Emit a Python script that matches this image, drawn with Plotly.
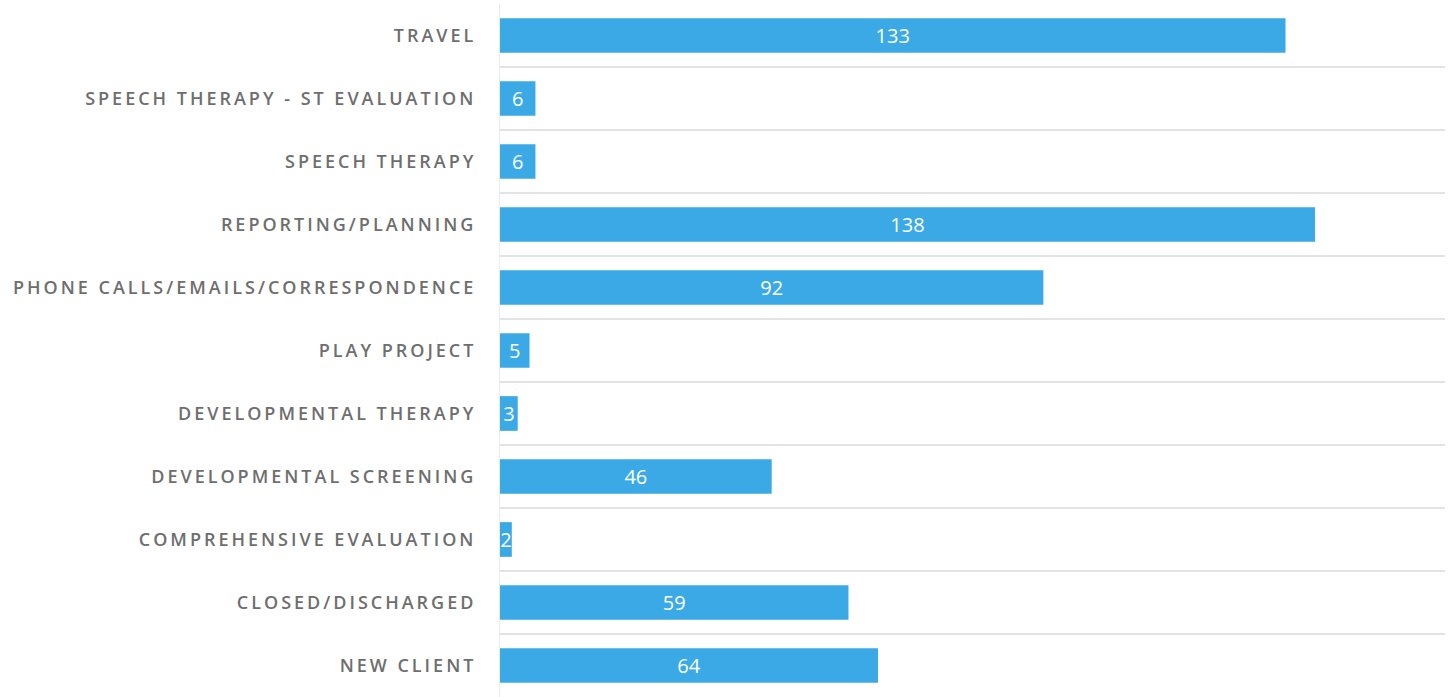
import plotly.graph_objects as go

# Hours logged per activity type, listed top to bottom
categories = [
    "TRAVEL",
    "SPEECH THERAPY - ST EVALUATION",
    "SPEECH THERAPY",
    "REPORTING/PLANNING",
    "PHONE CALLS/EMAILS/CORRESPONDENCE",
    "PLAY PROJECT",
    "DEVELOPMENTAL THERAPY",
    "DEVELOPMENTAL SCREENING",
    "COMPREHENSIVE EVALUATION",
    "CLOSED/DISCHARGED",
    "NEW CLIENT",
]
values = [133, 6, 6, 138, 92, 5, 3, 46, 2, 59, 64]

BAR_COLOR = "#3ba9e5"
LABEL_COLOR = "#6e6e6e"
GRID_COLOR = "#e3e3e3"


def spaced(label):
    # widen the tracking of the axis labels with thin spaces
    return "\u2009".join(label)


fig = go.Figure(
    go.Bar(
        x=values,
        y=categories,
        orientation="h",
        marker=dict(color=BAR_COLOR, line=dict(width=0)),
        text=[str(v) for v in values],
        textposition="inside",
        insidetextanchor="middle",
        constraintext="none",
        textfont=dict(family="Open Sans", size=20, color="white"),
        hoverinfo="x+y",
    )
)

fig.update_layout(
    width=1450,
    height=697,
    margin=dict(l=500, r=5, t=4, b=0),
    paper_bgcolor="white",
    plot_bgcolor="white",
    bargap=0.45,
    showlegend=False,
    uniformtext=dict(mode="show", minsize=20),
)

fig.update_xaxes(
    range=[0, 160],
    showticklabels=False,
    showgrid=False,
    zeroline=False,
    showline=False,
)

fig.update_yaxes(
    autorange="reversed",
    tickmode="array",
    tickvals=categories,
    ticktext=[spaced(c) for c in categories],
    tickson="boundaries",
    showgrid=True,
    gridcolor=GRID_COLOR,
    gridwidth=2,
    showline=True,
    linecolor="#ececec",
    linewidth=1,
    ticks="",
    ticklabelstandoff=22,
    tickfont=dict(family="Open Sans", size=18, color=LABEL_COLOR, weight=600),
)

fig.write_html("out.html")
